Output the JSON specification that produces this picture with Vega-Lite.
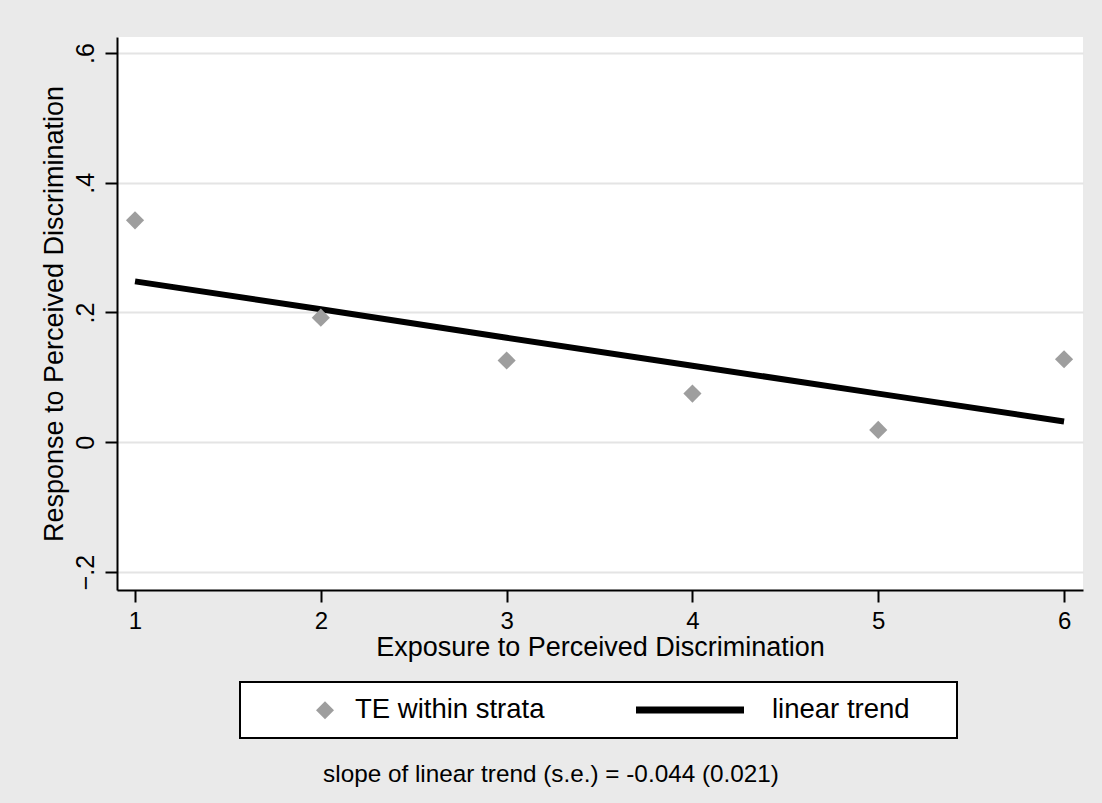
{
  "$schema": "https://vega.github.io/schema/vega-lite/v6.json",
  "autosize": "none",
  "width": 966,
  "height": 553,
  "padding": {"left": 117, "top": 37, "right": 19, "bottom": 213},
  "background": "#EAEAEA",
  "config": {
    "font": "Liberation Sans",
    "view": {"fill": "white", "stroke": null},
    "axis": {"labelFont": "Liberation Sans", "titleFont": "Liberation Sans", "labelColor": "black", "titleColor": "black", "titleFontWeight": "normal"}
  },
  "title": {
    "text": "slope of linear trend (s.e.) = -0.044 (0.021)",
    "orient": "bottom",
    "anchor": "middle",
    "frame": "group",
    "dx": -49,
    "offset": 24,
    "fontSize": 24.3,
    "fontWeight": "normal",
    "font": "Liberation Sans",
    "color": "black"
  },
  "datasets": {
    "pts": [
      {"x": 1, "y": 0.342, "series": "TE within strata"},
      {"x": 2, "y": 0.192, "series": "TE within strata"},
      {"x": 3, "y": 0.126, "series": "TE within strata"},
      {"x": 4, "y": 0.075, "series": "TE within strata"},
      {"x": 5, "y": 0.019, "series": "TE within strata"},
      {"x": 6, "y": 0.128, "series": "TE within strata"}
    ],
    "trend": [
      {"x": 1, "y": 0.248, "series": "linear trend"},
      {"x": 2, "y": 0.205, "series": "linear trend"},
      {"x": 3, "y": 0.161, "series": "linear trend"},
      {"x": 4, "y": 0.118, "series": "linear trend"},
      {"x": 5, "y": 0.075, "series": "linear trend"},
      {"x": 6, "y": 0.032, "series": "linear trend"}
    ]
  },
  "encoding": {
    "x": {
      "field": "x", "type": "quantitative",
      "scale": {"domain": [0.903, 6.102], "nice": false, "zero": false},
      "axis": {
        "title": "Exposure to Perceived Discrimination",
        "values": [1, 2, 3, 4, 5, 6],
        "grid": false,
        "domainColor": "black", "domainWidth": 2,
        "tickColor": "black", "tickWidth": 2, "tickSize": 12,
        "labelFontSize": 24, "labelPadding": 7,
        "titleFontSize": 27, "titlePadding": 1
      }
    },
    "y": {
      "field": "y", "type": "quantitative",
      "scale": {"domain": [-0.2277, 0.6246], "nice": false, "zero": false},
      "axis": {
        "title": "Response to Perceived Discrimination",
        "values": [-0.2, 0, 0.2, 0.4, 0.6],
        "labelExpr": "datum.value == 0 ? '0' : replace(format(datum.value, '.1f'), '0.', '.')",
        "grid": true, "gridColor": "#E4E4E4", "gridWidth": 2,
        "domainColor": "black", "domainWidth": 2,
        "tickColor": "black", "tickWidth": 2, "tickSize": 12,
        "labelAngle": -90, "labelAlign": "center", "labelBaseline": "bottom",
        "labelFontSize": 25, "labelPadding": 7,
        "titleFontSize": 27, "titlePadding": 5
      }
    },
    "color": {
      "field": "series", "type": "nominal",
      "scale": {"domain": ["TE within strata", "linear trend"], "range": ["#9E9E9E", "black"]},
      "legend": {
        "title": "\u00a0",
        "titleOrient": "right",
        "titlePadding": 33,
        "titleFontSize": 27.5,
        "orient": "none",
        "legendX": 123,
        "legendY": 645,
        "direction": "horizontal",
        "columns": 2,
        "columnPadding": 77,
        "fillColor": "white",
        "strokeColor": "black",
        "padding": 14,
        "labelFontSize": 27.5,
        "labelFont": "Liberation Sans",
        "labelColor": "black",
        "labelLimit": 1000,
        "symbolSize": 324,
        "symbolType": "diamond",
        "encode": {
          "legend": {"update": {"strokeWidth": {"value": 2}}},
          "symbols": {
            "update": {
              "x": {"signal": "datum.value === 'linear trend' ? 54 : 71"},
              "shape": {"signal": "datum.value === 'linear trend' ? 'stroke' : 'diamond'"},
              "size": {"signal": "datum.value === 'linear trend' ? 11664 : 324"},
              "fill": {"signal": "datum.value === 'linear trend' ? 'transparent' : '#9E9E9E'"},
              "stroke": {"signal": "datum.value === 'linear trend' ? 'black' : 'transparent'"},
              "strokeWidth": {"signal": "datum.value === 'linear trend' ? 7 : 0"},
              "opacity": {"value": 1}
            }
          },
          "labels": {
            "update": {
              "x": {"signal": "datum.value === 'linear trend' ? 136 : 101"}
            }
          }
        }
      }
    }
  },
  "layer": [
    {
      "data": {"name": "trend"},
      "mark": {"type": "line", "strokeWidth": 6, "strokeCap": "butt"}
    },
    {
      "data": {"name": "pts"},
      "mark": {"type": "point", "shape": "diamond", "filled": true, "size": 330, "opacity": 1}
    }
  ]
}
